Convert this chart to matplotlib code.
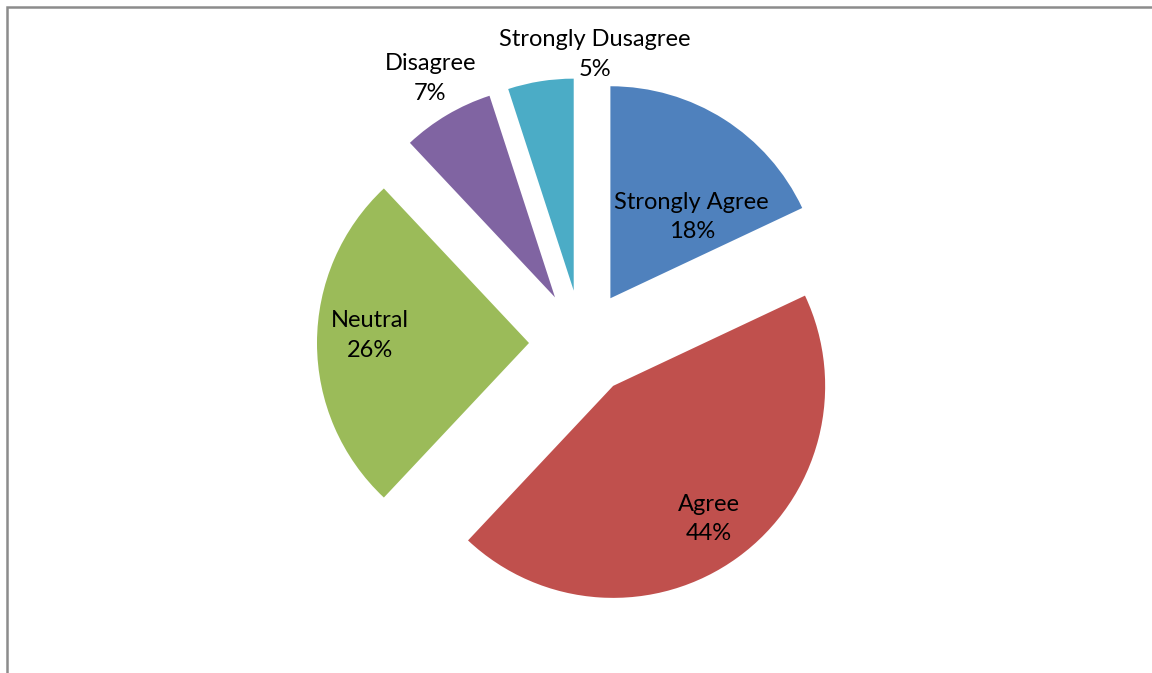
import matplotlib
matplotlib.use("Agg")
from matplotlib import pyplot as plt
from matplotlib.patches import Rectangle
import numpy as np

# Données du graphique
categories = ["Strongly Agree", "Agree", "Neutral", "Disagree", "Strongly Dusagree"]
values = [18, 44, 26, 7, 5]
colors = ["#4F81BD", "#C0504D", "#9BBB59", "#8064A2", "#4BACC6"]

W, H = 1152, 673
plt.rcParams["font.family"] = ["Lato", "DejaVu Sans"]

fig = plt.figure(figsize=(W / 100, H / 100), dpi=100)
ax = fig.add_axes([0, 0, 1, 1])

# Géométrie du camembert (en pixels)
cx, cy = 582, H - 343
radius = 212
offset = 53

wedges, _ = ax.pie(values, colors=colors, startangle=90, counterclock=False,
                   radius=radius, center=(cx, cy), explode=[offset] * len(values),
                   wedgeprops=dict(linewidth=0))

# Position des étiquettes : angle et distance depuis le centre
label_pos = [(48.9, 167), (-54.2, 217), (178, 212), (119.8, 305), (87.4, 289)]
for name, v, (ang, dist) in zip(categories, values, label_pos):
    a = np.radians(ang)
    ax.text(cx + dist * np.cos(a), cy + dist * np.sin(a), f"{name}\n{v}%",
            ha="center", va="center", fontsize=17, color="black", linespacing=1.5)

# Cadre du graphique
ax.add_patch(Rectangle((7, -20), W + 20, H - 7 + 20, fill=False,
                       edgecolor="#8c8c8c", linewidth=1.8))

ax.set_xlim(0, W)
ax.set_ylim(0, H)
ax.set_aspect("equal")
ax.axis("off")

fig.savefig("out.png", dpi=100)
